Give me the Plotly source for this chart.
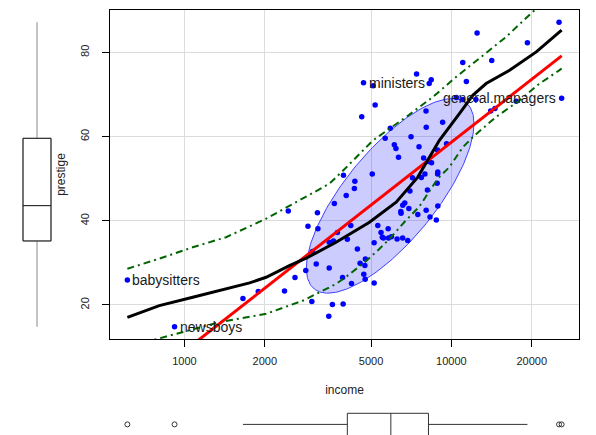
import numpy as np
import plotly.graph_objects as go

# ---------------- data (Prestige data set) ----------------
income = [12351, 25879, 9271, 8865, 8403, 11030, 8258, 14163, 11377, 11023,
          5902, 7059, 8425, 8049, 7405, 6336, 19263, 6112, 9593, 4686,
          12480, 5648, 8034, 25308, 14558, 17498, 4614, 3485, 5092, 10432,
          5180, 6197, 7562, 8206, 4036, 3148, 4348, 2448, 4330, 4761,
          3016, 2901, 5511, 3739, 3161, 4741, 5052, 6259, 4075, 7482,
          8780, 2594, 918, 2370, 8131, 6992, 7956, 8895, 8891, 3116,
          3930, 7869, 611, 3000, 3472, 3582, 3643, 1656, 6860, 4199,
          5134, 5134, 1890, 4443, 3485, 8043, 6686, 6565, 6477, 5811,
          6573, 3942, 5449, 2847, 5795, 7716, 4696, 8316, 7147, 8880,
          5299, 5959, 4549, 6928, 3910, 14032, 8845, 5562, 4224, 4753,
          6462, 3617]
prestige = [68.8, 69.1, 63.4, 56.8, 73.5, 77.6, 72.6, 78.1, 73.1, 68.8,
            62.0, 60.0, 53.8, 62.2, 74.9, 55.1, 82.3, 58.1, 58.3, 72.8,
            84.6, 59.6, 66.1, 87.2, 66.7, 68.4, 64.7, 34.9, 72.1, 69.3,
            67.5, 57.2, 57.6, 54.1, 46.0, 41.9, 49.4, 42.3, 47.7, 30.9,
            32.7, 38.7, 36.1, 37.2, 38.1, 29.4, 51.1, 35.7, 35.6, 41.5,
            40.2, 26.5, 14.8, 23.3, 47.3, 47.1, 51.1, 43.5, 51.6, 29.7,
            20.2, 54.9, 25.9, 20.8, 17.3, 20.1, 44.1, 21.5, 35.3, 38.9,
            25.2, 34.8, 23.2, 33.3, 28.8, 42.5, 44.2, 35.9, 41.8, 35.9,
            43.7, 50.8, 37.2, 28.2, 38.1, 50.3, 27.3, 40.9, 50.2, 51.1,
            38.9, 36.2, 29.9, 42.9, 26.5, 66.1, 48.9, 35.9, 25.1, 26.1,
            42.2, 35.2]

label_names = ["babysitters", "newsboys", "ministers", "general.managers"]
label_income = [611, 918, 4686, 25879]
label_prestige = [25.9, 14.8, 72.8, 69.1]
label_side = ["right", "right", "right", "left"]

# loess smoother and spread
smooth_income = [611, 805, 1074, 1432, 1754, 2023, 2472, 2858, 3698, 4932,
                 6209, 7482, 9016, 10715, 12023, 13490, 16520, 20797, 25879]
smooth_prestige = [17.05, 19.83, 21.81, 23.81, 25.24, 26.57, 29.36, 31.10, 34.90, 39.67,
                   44.43, 50.38, 59.12, 65.48, 69.83, 72.62, 75.79, 80.14, 85.31]
upper_income = [611, 805, 1074, 1432, 2023, 2773, 3491, 3981, 5082, 6776,
                8511, 10423, 12735, 16032, 20184, 25879]
upper_prestige = [28.6, 31.0, 33.7, 36.1, 40.5, 45.2, 48.8, 52.3, 59.1, 64.7,
                  69.4, 74.2, 78.6, 83.7, 89.7, 95.5]
lower_income = [611, 984, 1352, 2023, 2773, 3206, 3698, 4036, 4721, 5370,
                5861, 6668, 7586, 8147, 8892, 9840, 11041, 12218, 14723, 17989,
                21380, 25410, 25879]
lower_prestige = [10.0, 13.5, 15.9, 17.9, 21.0, 23.0, 25.0, 26.7, 30.1, 33.3,
                  35.7, 39.7, 43.4, 46.4, 50.0, 52.8, 57.5, 60.3, 64.7, 68.6,
                  72.6, 75.8, 76.2]

ellipse_level = 0.68
xtick_vals = [1000, 2000, 5000, 10000, 20000]
ytick_vals = [20, 40, 60, 80]

# ---------------- derived statistics ----------------
lx = np.log10(np.array(income, float))
py = np.array(prestige, float)
n = len(lx)


def fivenum(v):
    v = np.sort(np.asarray(v, float))
    m = len(v)
    n4 = np.floor((m + 3) / 2) / 2
    d = np.array([1, n4, (m + 1) / 2, m + 1 - n4, m]) - 1
    return 0.5 * (v[np.floor(d).astype(int)] + v[np.ceil(d).astype(int)])


def box_stats(v):
    v = np.asarray(v, float)
    f = fivenum(v)
    iqr = f[3] - f[1]
    inside = (v >= f[1] - 1.5 * iqr) & (v <= f[3] + 1.5 * iqr)
    return f[1], f[2], f[3], v[inside].min(), v[inside].max(), v[~inside]


def cov_trob(X, nu=5, maxit=25, tol=0.01):
    X = np.asarray(X, float)
    m, p = X.shape
    wt = np.ones(m)
    loc = X.mean(axis=0)
    w = np.sqrt(wt)
    Xc = X - loc
    for _ in range(maxit):
        w0 = w
        Xc = X - loc
        _, s, vt = np.linalg.svd(np.sqrt(w / w.sum())[:, None] * Xc, full_matrices=False)
        wX = Xc @ vt.T @ np.diag(1 / s)
        Q = (wX ** 2).sum(axis=1)
        w = (wt * (nu + p)) / (nu + Q)
        loc = (w[:, None] * X).sum(axis=0) / w.sum()
        if np.all(np.abs(w - w0) < tol):
            break
    cov = (np.sqrt(w)[:, None] * Xc).T @ (np.sqrt(w)[:, None] * Xc) / wt.sum()
    return loc, cov


center, shape = cov_trob(np.column_stack([lx, py]))
dfd = n - 1
fq = ((1 - ellipse_level) ** (-2 / dfd) - 1) * dfd / 2      # qf(level, 2, n-1)
radius = np.sqrt(2 * fq)
ang = np.linspace(0, 2 * np.pi, 241)
L = np.linalg.cholesky(shape)
circ = np.column_stack([np.cos(ang), np.sin(ang)])
ell = center + radius * circ @ L.T
ell_income = 10 ** ell[:, 0]
ell_prestige = ell[:, 1]

slope, intercept = np.polyfit(lx, py, 1)
reg_income = [min(income), max(income)]
reg_prestige = [intercept + slope * np.log10(v) for v in reg_income]

xr = lx.max() - lx.min()
xrange_ = [lx.min() - 0.04 * xr, lx.max() + 0.04 * xr]
yr = py.max() - py.min()
yrange_ = [py.min() - 0.04 * yr, py.max() + 0.04 * yr]

pq1, pmed, pq3, plo, phi, pout = box_stats(py)
iq1, imed, iq3, ilo, ihi, iout = box_stats(lx)

# ---------------- figure ----------------
W, H = 596, 435
FONT = "Liberation Sans, Arial, sans-serif"
fig = go.Figure()

fig.add_trace(go.Scatter(x=ell_income, y=ell_prestige, mode="lines", fill="toself",
                         fillcolor="rgba(0,0,255,0.2)", line=dict(color="#4040ff", width=1),
                         hoverinfo="skip", showlegend=False))
fig.add_trace(go.Scatter(x=income, y=prestige, mode="markers",
                         marker=dict(color="#0000ff", size=5.5), showlegend=False))
fig.add_trace(go.Scatter(x=upper_income, y=upper_prestige, mode="lines",
                         line=dict(color="#006400", width=2, dash="7px,4px,2px,4px"), showlegend=False))
fig.add_trace(go.Scatter(x=lower_income, y=lower_prestige, mode="lines",
                         line=dict(color="#006400", width=2, dash="7px,4px,2px,4px"), showlegend=False))
fig.add_trace(go.Scatter(x=reg_income, y=reg_prestige, mode="lines",
                         line=dict(color="#ff0000", width=3), showlegend=False))
fig.add_trace(go.Scatter(x=smooth_income, y=smooth_prestige, mode="lines",
                         line=dict(color="#000000", width=3), showlegend=False))

for name, xi, yi, side in zip(label_names, label_income, label_prestige, label_side):
    fig.add_annotation(x=np.log10(xi), y=yi, xref="x", yref="y", text=name, showarrow=False,
                       xanchor="left" if side == "right" else "right", yanchor="middle",
                       xshift=3 if side == "right" else -4,
                       font=dict(family=FONT, size=14, color="#1a1a1a"))

# left boxplot (prestige)
fig.add_trace(go.Box(x=[0], q1=[pq1], median=[pmed], q3=[pq3], lowerfence=[plo], upperfence=[phi],
                     width=0.28, whiskerwidth=0, line=dict(color="#888888", width=1),
                     fillcolor="rgba(0,0,0,0)", xaxis="x2", yaxis="y2", showlegend=False,
                     boxpoints=False))
fig.add_trace(go.Box(x=[0], q1=[pq1], median=[pmed], q3=[pq3], lowerfence=[pq1], upperfence=[pq3],
                     width=0.28, whiskerwidth=0, line=dict(color="#222222", width=1),
                     fillcolor="rgba(0,0,0,0)", xaxis="x2", yaxis="y2", showlegend=False,
                     boxpoints=False))

# bottom boxplot (income, log scale)
fig.add_trace(go.Box(y=[0], q1=[10 ** iq1], median=[10 ** imed], q3=[10 ** iq3],
                     lowerfence=[10 ** ilo], upperfence=[10 ** ihi], orientation="h",
                     width=2.22, whiskerwidth=0, line=dict(color="#333333", width=1),
                     fillcolor="rgba(0,0,0,0)", xaxis="x3", yaxis="y3", showlegend=False,
                     boxpoints=False))
fig.add_trace(go.Scatter(x=10 ** iout, y=[0] * len(iout), mode="markers",
                         marker=dict(symbol="circle-open", size=5, color="#333333",
                                     line=dict(width=1)),
                         xaxis="x3", yaxis="y3", showlegend=False))

xdom = [110 / W, 579 / W]
ydom = [(H - 339) / H, (H - 10) / H]
axis_font = dict(family=FONT, size=11, color="#222222")
fig.update_layout(
    width=W, height=H, margin=dict(l=0, r=0, t=0, b=0),
    paper_bgcolor="white", plot_bgcolor="white", showlegend=False,
    font=dict(family=FONT, color="#222222"),
    xaxis=dict(domain=xdom, type="log", range=xrange_, tickvals=xtick_vals,
               ticktext=[str(v) for v in xtick_vals], ticks="outside", ticklen=7,
               tickcolor="black", showgrid=True, gridcolor="#dcdcdc", gridwidth=1,
               showline=True, mirror=True, linecolor="black", linewidth=1, zeroline=False,
               tickfont=axis_font, anchor="y", ticklabelstandoff=5,
               title=dict(text="income", font=dict(family=FONT, size=12, color="#222222"),
                          standoff=19)),
    yaxis=dict(domain=ydom, range=yrange_, tickvals=ytick_vals, ticks="outside", ticklen=7,
               tickcolor="black", tickangle=-90, showgrid=True, gridcolor="#dcdcdc",
               gridwidth=1, showline=True, mirror=True, linecolor="black", linewidth=1,
               zeroline=False, tickfont=axis_font, anchor="x", ticklabelstandoff=9,
               title=dict(text="prestige", font=dict(family=FONT, size=12, color="#222222"),
                          standoff=10)),
    xaxis2=dict(domain=[0, 100 / W], range=[-0.37, 0.63], visible=False, anchor="y2"),
    yaxis2=dict(domain=ydom, range=yrange_, visible=False, anchor="x2"),
    xaxis3=dict(domain=xdom, type="log", range=xrange_, visible=False, anchor="y3"),
    yaxis3=dict(domain=[0, 45 / H], range=[-1.06, 3.44], visible=False, anchor="x3"),
)

fig.write_html("out.html")
